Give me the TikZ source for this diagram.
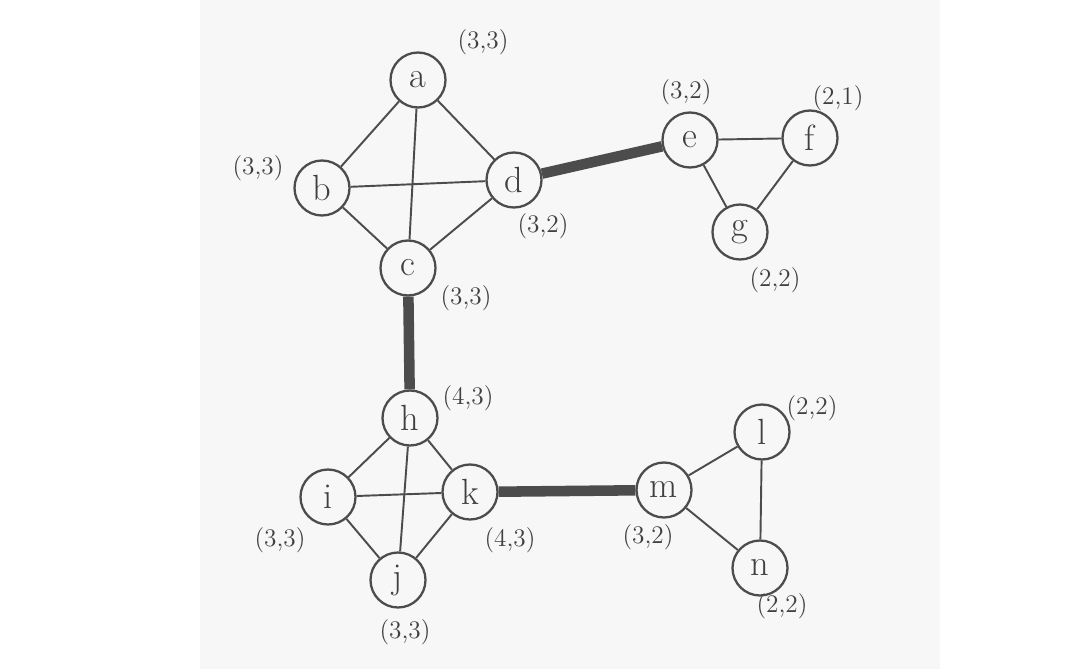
\documentclass[tikz,border=0pt]{standalone}
\begin{document}
\begin{tikzpicture}[x=0.02cm,y=-0.02cm,
 vtx/.style={circle,draw=black!70,line width=1.3pt,minimum size=1.1cm,inner sep=0pt,font=\huge,text=black!75},
 lab/.style={font=\Large,text=black!75},
 edge/.style={draw=black!70,line width=1.1pt},
 thick edge/.style={draw=black!70,line width=6pt}]
\useasboundingbox (0,0) rectangle (1078,669);
\fill[white] (0,0) rectangle (1078,669);
\fill[black!3] (200,0) rectangle (940,669);
\node[vtx] (a) at (418,80) {a};
\node[vtx] (b) at (322,188) {b};
\node[vtx] (d) at (514,180) {d};
\node[vtx] (c) at (408,268) {c};
\node[vtx] (e) at (690,140) {e};
\node[vtx] (f) at (810,138) {f};
\node[vtx] (g) at (740,232) {g};
\node[vtx] (h) at (410,418) {h};
\node[vtx] (i) at (328,497) {i};
\node[vtx] (k) at (470,492) {k};
\node[vtx] (j) at (398,580) {j};
\node[vtx] (m) at (664,490) {m};
\node[vtx] (l) at (762,432) {l};
\node[vtx] (n) at (760,568) {n};
\foreach \u/\v in {a/b,a/d,a/c,b/d,b/c,d/c,e/f,e/g,f/g,h/i,h/k,h/j,i/k,i/j,k/j,m/l,m/n,l/n}
  \draw[edge] (\u) -- (\v);
\draw[thick edge] (d) -- (e);
\draw[thick edge] (c) -- (h);
\draw[thick edge] (k) -- (m);
\node[lab] (la) at (483,42) {(3,3)};
\node[lab] (lb) at (258,168) {(3,3)};
\node[lab] (ld) at (543,226) {(3,2)};
\node[lab] (lc) at (466,298) {(3,3)};
\node[lab] (le) at (686,92) {(3,2)};
\node[lab] (lf) at (838,98) {(2,1)};
\node[lab] (lg) at (775,280) {(2,2)};
\node[lab] (lh) at (468,398) {(4,3)};
\node[lab] (li) at (280,540) {(3,3)};
\node[lab] (lk) at (510,540) {(4,3)};
\node[lab] (lj) at (405,632) {(3,3)};
\node[lab] (lm) at (648,537) {(3,2)};
\node[lab] (ll) at (812,408) {(2,2)};
\node[lab] (ln) at (782,606) {(2,2)};
\end{tikzpicture}
\end{document}
